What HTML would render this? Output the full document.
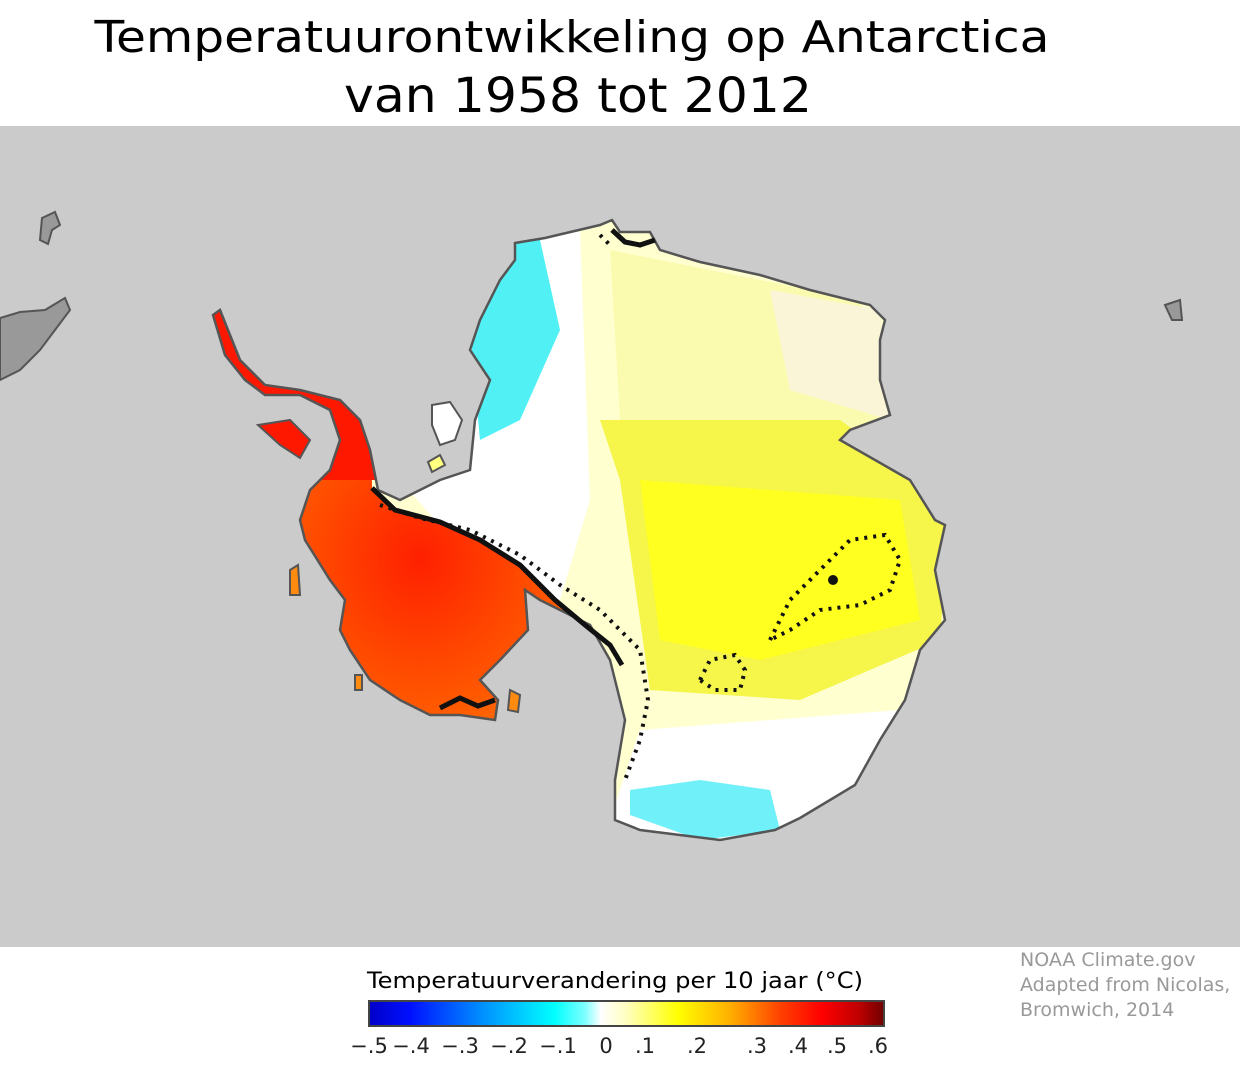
<!DOCTYPE html>
<html><head><meta charset="utf-8"><style>
html,body{margin:0;padding:0;background:#fff;}
svg{display:block;}
text{font-family:"DejaVu Sans","Liberation Sans",sans-serif;}
</style></head><body>
<svg width="1240" height="1069" viewBox="0 0 1240 1069">
<defs>
<linearGradient id="cbar" x1="0" x2="1" y1="0" y2="0">
<stop offset="0" stop-color="#0000c8"/><stop offset="0.08" stop-color="#0010ff"/>
<stop offset="0.22" stop-color="#0090ff"/><stop offset="0.36" stop-color="#00ffff"/>
<stop offset="0.42" stop-color="#80ffff"/><stop offset="0.45" stop-color="#ffffff"/>
<stop offset="0.5" stop-color="#ffffc0"/><stop offset="0.6" stop-color="#ffff00"/>
<stop offset="0.7" stop-color="#ffb000"/><stop offset="0.8" stop-color="#ff4000"/>
<stop offset="0.88" stop-color="#ff0000"/><stop offset="0.95" stop-color="#c00000"/>
<stop offset="1" stop-color="#700000"/>
</linearGradient>
<radialGradient id="west" cx="0.55" cy="0.6" r="0.6">
<stop offset="0" stop-color="#ff2000"/><stop offset="0.6" stop-color="#ff5a00"/><stop offset="1" stop-color="#ff8a10"/>
</radialGradient>
<clipPath id="land"><path id="landpath" d="M515,243 L545,238 L600,225 L612,220 L620,232 L650,232 L660,250 L700,262 L760,275 L810,290 L870,305 L885,320 L880,340 L880,380 L890,415 L850,430 L840,440 L910,480 L935,520 L945,525 L935,570 L945,620 L920,650 L905,700 L880,740 L855,785 L830,800 L800,818 L775,830 L720,840 L680,835 L640,830 L615,820 L615,780 L625,720 L610,660 L590,625 L560,610 L540,600 L525,590 L528,630 L500,660 L480,680 L498,700 L495,720 L460,715 L430,715 L400,700 L370,680 L350,650 L340,630 L345,600 L330,580 L305,540 L300,520 L310,490 L330,470 L340,440 L330,410 L300,395 L265,395 L245,380 L225,355 L213,315 L220,310 L240,360 L265,385 L300,390 L340,400 L360,420 L370,450 L378,490 L400,500 L440,480 L470,470 L475,420 L490,380 L470,350 L480,320 L500,280 L515,260 Z"/></clipPath>
</defs>
<rect x="0" y="0" width="1240" height="1069" fill="#fff"/>
<text x="572" y="52" font-size="44" text-anchor="middle" textLength="955" lengthAdjust="spacingAndGlyphs">Temperatuurontwikkeling op Antarctica</text>
<text x="578" y="112" font-size="48" text-anchor="middle" textLength="468" lengthAdjust="spacingAndGlyphs">van 1958 tot 2012</text>
<rect x="0" y="126" width="1240" height="821" fill="#cbcbcb"/>
<g fill="#999" stroke="#555" stroke-width="2">
<path d="M0,318 L20,312 L45,310 L65,298 L70,310 L55,330 L40,350 L20,370 L0,380 Z"/>
<path d="M42,218 L55,212 L60,225 L52,230 L48,244 L40,240 Z"/>
<path d="M1165,305 L1180,300 L1182,320 L1172,320 Z"/>
</g>
<g clip-path="url(#land)">
<rect x="200" y="200" width="760" height="660" fill="#ffffd0"/>
<path d="M470,230 L580,230 L590,500 L560,600 L470,560 L400,480 Z" fill="#ffffff"/>
<path d="M470,240 L540,240 L560,330 L520,420 L480,440 L470,330 Z" fill="#50f0f5"/>
<path d="M610,250 L860,300 L890,420 L820,440 L700,430 L620,420 Z" fill="#fbfbb0"/>
<path d="M770,290 L880,310 L890,420 L790,390 Z" fill="#fbf5d8"/>
<path d="M840,420 L600,420 L620,480 L650,690 L800,700 L940,640 L950,500 Z" fill="#f5f54a"/>
<path d="M640,480 L900,500 L920,620 L760,660 L660,640 Z" fill="#ffff20"/>
<path d="M640,730 L900,710 L900,850 L600,850 Z" fill="#ffffff"/>
<path d="M630,790 L700,780 L770,790 L780,830 L700,840 L630,815 Z" fill="#70f0f8"/>
<path d="M200,300 L370,300 L372,488 L395,510 L440,522 L480,540 L520,565 L555,600 L585,625 L600,660 L540,640 L510,720 L300,730 L200,600 Z" fill="url(#west)"/>
<path d="M200,300 L370,300 L375,480 L300,480 L200,400 Z" fill="#ff1800"/>
</g>
<use href="#landpath" fill="none" stroke="#555" stroke-width="2.5"/>
<g stroke="#555" stroke-width="2">
<path d="M432,405 L450,402 L462,420 L455,440 L440,445 L432,425 Z" fill="#fff"/>
<path d="M428,462 L440,455 L445,465 L432,472 Z" fill="#ffff80"/>
<path d="M258,425 L290,420 L310,440 L300,458 L280,445 Z" fill="#ff1800"/>
<path d="M290,570 L298,565 L300,595 L290,595 Z" fill="#ff8a10"/>
<path d="M510,690 L520,695 L518,712 L508,710 Z" fill="#ff8a10"/>
<path d="M355,675 L362,675 L362,690 L355,690 Z" fill="#ff8a10"/>
</g>
<g fill="none" stroke="#111">
<path d="M372,488 L395,510 L440,522 L480,540 L520,565 L555,600 L585,625 L610,645 L622,665" stroke-width="5"/>
<path d="M440,708 L460,698 L478,706 L495,700" stroke-width="5"/>
<path d="M612,230 L625,242 L640,245 L655,240" stroke-width="5"/>
<path d="M380,505 L420,518 L470,530 L520,555 L560,585 L600,610 L640,650 L648,700 L640,740 L625,780" stroke-width="4" stroke-dasharray="3,6"/>
<path d="M770,640 L790,600 L830,560 L850,540 L885,535 L900,560 L890,590 L860,605 L820,610 L790,630 Z" stroke-width="4" stroke-dasharray="3,6"/>
<path d="M700,680 L710,660 L735,655 L745,670 L740,690 L715,690 Z" stroke-width="4" stroke-dasharray="3,6"/>
<path d="M600,235 L610,245" stroke-width="4" stroke-dasharray="3,6"/>
</g>
<circle cx="833" cy="580" r="5" fill="#111"/>
<text x="615" y="988" font-size="22" text-anchor="middle" textLength="496" lengthAdjust="spacingAndGlyphs">Temperatuurverandering per 10 jaar (°C)</text>
<rect x="369" y="1001" width="515" height="25" fill="url(#cbar)" stroke="#444" stroke-width="2"/>
<g font-size="21" fill="#222" text-anchor="middle">
<text x="369" y="1053">−.5</text><text x="411" y="1053">−.4</text><text x="460" y="1053">−.3</text><text x="509" y="1053">−.2</text><text x="558" y="1053">−.1</text><text x="606" y="1053">0</text><text x="645" y="1053">.1</text><text x="697" y="1053">.2</text><text x="757" y="1053">.3</text><text x="798" y="1053">.4</text><text x="837" y="1053">.5</text><text x="878" y="1053">.6</text>
</g>
<g font-size="19" fill="#999" font-family="Liberation Sans, sans-serif">
<text x="1020" y="966">NOAA Climate.gov</text>
<text x="1020" y="991">Adapted from Nicolas,</text>
<text x="1020" y="1016">Bromwich, 2014</text>
</g>
</svg>
</body></html>
